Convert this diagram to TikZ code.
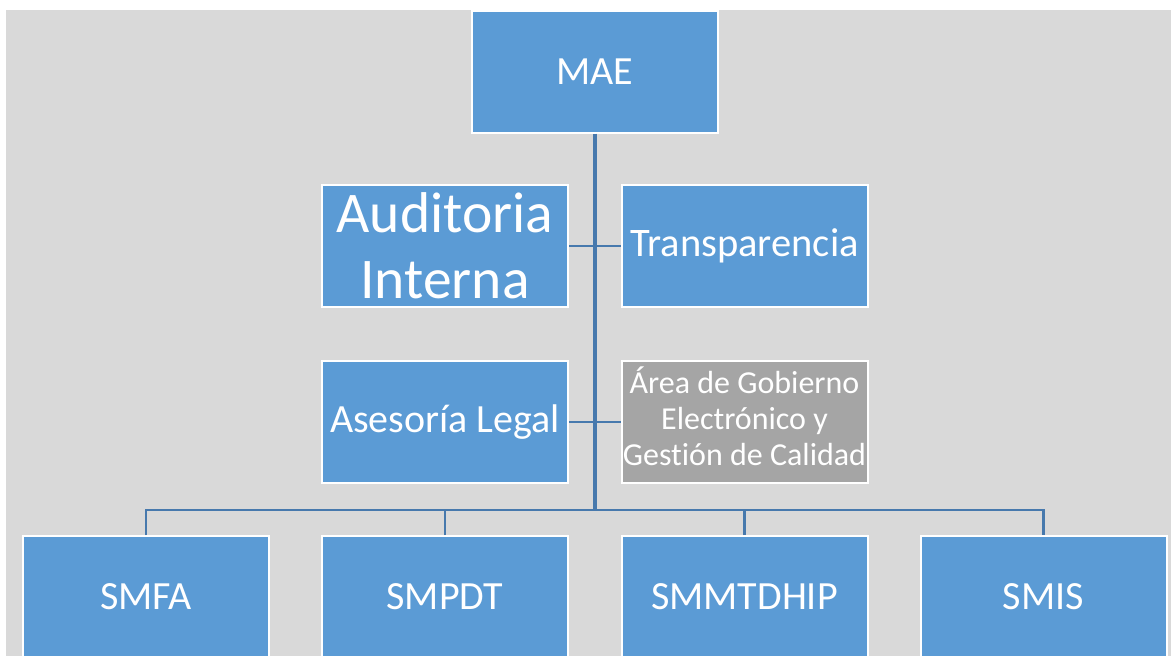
\documentclass[tikz,border=0pt]{standalone}
\usepackage{fontspec}
\setmainfont{Carlito}[Ligatures=NoCommon]
\definecolor{boxblue}{HTML}{5B9BD5}
\definecolor{boxgrey}{HTML}{A5A5A5}
\definecolor{bggrey}{HTML}{D9D9D9}
\definecolor{linkblue}{HTML}{4779AD}
\tikzset{
  orgbox/.style={rectangle, draw=white, line width=2pt, fill=boxblue, text=white,
    minimum width=246pt, minimum height=122pt, inner sep=0pt, align=center,
    font=\fontsize{40}{47}\selectfont},
  greybox/.style={orgbox, fill=boxgrey},
  link/.style={draw=linkblue, line width=2.5pt},
}
\begin{document}
\begin{tikzpicture}[x=1pt,y=-1pt]
\useasboundingbox (0,0) rectangle (1171,656);
\fill[bggrey] (6,10) rectangle (1171,656);
\node[orgbox] (mae) at (595,71.5) {MAE};
\node[orgbox, font=\fontsize{57.5}{66}\selectfont] (aud) at (445,246) {Auditoria\\Interna};
\node[orgbox, font=\fontsize{40.5}{47}\selectfont] (tra) at (744.5,246) {Transparencia};
\node[orgbox, font=\fontsize{40}{47}\selectfont] (ase) at (445,422) {Asesoría Legal};
\node[greybox, font=\fontsize{32}{36}\selectfont] (are) at (744.5,422) {\raisebox{1pt}{\begin{tabular}{@{}c@{}}Área de Gobierno\\Electrónico y\\Gestión de Calidad\end{tabular}}};
\node[orgbox] (smfa) at (146,597) {SMFA};
\node[orgbox] (smpdt) at (445,597) {SMPDT};
\node[orgbox] (smm) at (744.5,597) {SMMTDHIP};
\node[orgbox] (smis) at (1043.5,597) {SMIS};
\coordinate (bus) at (595,510);
\draw[link, line width=3.2pt] (mae.south) -- (bus);
\draw[link] (aud.east) -- (tra.west);
\draw[link] (ase.east) -- (are.west);
\draw[link] (smfa.north) |- (bus) -| (smis.north);
\draw[link] (smpdt.north) -- (smpdt.north |- bus);
\draw[link] (smm.north) -- (smm.north |- bus);
\end{tikzpicture}
\end{document}
